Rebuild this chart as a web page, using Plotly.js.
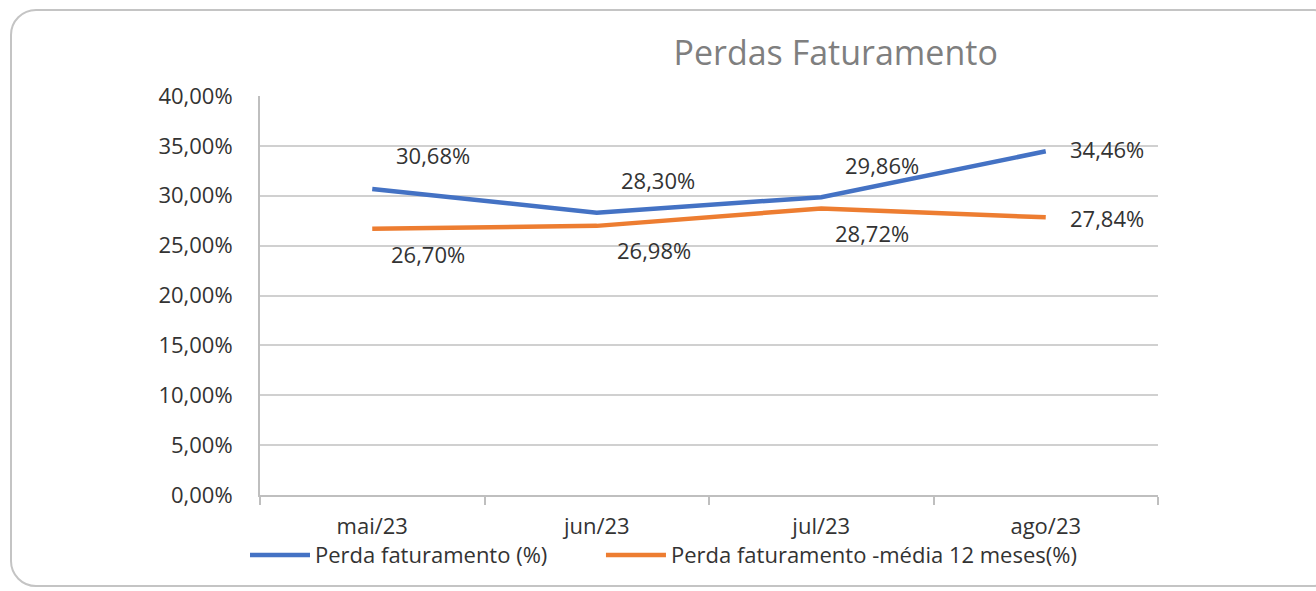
<!DOCTYPE html>
<html>
<head>
<meta charset="utf-8">
<script src="https://cdn.plot.ly/plotly-3.0.1.min.js"></script>
<style>
html,body{margin:0;padding:0;background:#fff;overflow:hidden;}
#frame{position:absolute;left:10px;top:9px;width:1330px;height:578px;border:2px solid #c4c4c4;border-radius:26px;box-sizing:border-box;}
#chart{position:absolute;left:0;top:0;width:1316px;height:591px;}
</style>
</head>
<body>
<div id="frame"></div>
<div id="chart"></div>
<script>
const categories = ["mai/23", "jun/23", "jul/23", "ago/23"];
const perdaFaturamento = [0.3068, 0.2830, 0.2986, 0.3446];
const perdaMedia12 = [0.2670, 0.2698, 0.2872, 0.2784];
const seriesNames = ["Perda faturamento (%)", "Perda faturamento -média 12 meses(%)"];
const yTickVals = [0, 0.05, 0.10, 0.15, 0.20, 0.25, 0.30, 0.35, 0.40];
const yTickText = ["0,00%", "5,00%", "10,00%", "15,00%", "20,00%", "25,00%", "30,00%", "35,00%", "40,00%"];

const fmt = v => (v * 100).toFixed(2).replace(".", ",") + "%";
const FONT = "'Open Sans', Lato, sans-serif";
const TXT = "#333333";
const SZ = 22;

const traces = [
  {x: categories, y: perdaFaturamento, name: seriesNames[0], type: "scatter", mode: "lines",
   line: {color: "#4472C4", width: 4.5}, legend: "legend"},
  {x: categories, y: perdaMedia12, name: seriesNames[1], type: "scatter", mode: "lines",
   line: {color: "#ED7D31", width: 4.5}, legend: "legend2"}
];

const blueShift = [[61, 34], [61, 33], [61, 32], [61, 2]];
const orangeShift = [[56, -25], [57, -24], [51, -24], [61, -1]];
const annotations = [];
categories.forEach((c, i) => {
  annotations.push({x: c, y: perdaFaturamento[i], xref: "x", yref: "y", text: fmt(perdaFaturamento[i]),
    showarrow: false, xshift: blueShift[i][0], yshift: blueShift[i][1],
    font: {family: FONT, size: SZ, color: TXT}});
  annotations.push({x: c, y: perdaMedia12[i], xref: "x", yref: "y", text: fmt(perdaMedia12[i]),
    showarrow: false, xshift: orangeShift[i][0], yshift: orangeShift[i][1],
    font: {family: FONT, size: SZ, color: TXT}});
});

const legendBase = {orientation: "h", xanchor: "left", y: -0.098, yanchor: "top", itemwidth: 60,
  font: {family: FONT, size: SZ, color: TXT}, bgcolor: "rgba(0,0,0,0)"};

const layout = {
  width: 1316, height: 591,
  paper_bgcolor: "rgba(0,0,0,0)", plot_bgcolor: "rgba(0,0,0,0)",
  margin: {l: 260, r: 158, t: 96, b: 96},
  title: {text: "Perdas Faturamento", x: 0.635, xanchor: "center", y: 0.91, yanchor: "middle",
    font: {family: FONT, size: 34, color: "#7f7f7f"}},
  showlegend: true,
  legend: Object.assign({}, legendBase, {x: -0.0167}),
  legend2: Object.assign({}, legendBase, {x: 0.3797}),
  xaxis: {type: "category", range: [-0.5, 3.5], showgrid: false, showline: true, linecolor: "#bfbfbf", linewidth: 2,
    ticks: "outside", tickson: "boundaries", ticklen: 8, tickcolor: "#bfbfbf", tickwidth: 2,
    ticklabelstandoff: 11,
    tickfont: {family: FONT, size: SZ, color: TXT}, fixedrange: true},
  yaxis: {range: [0, 0.40], tickvals: yTickVals, ticktext: yTickText, showgrid: true,
    gridcolor: "#d0d0d0", gridwidth: 2, showline: true, linecolor: "#bfbfbf", linewidth: 2,
    zeroline: false, ticks: "", ticklabelstandoff: 21,
    tickfont: {family: FONT, size: SZ, color: TXT}},
  annotations: annotations
};

Plotly.newPlot("chart", traces, layout, {displayModeBar: false, staticPlot: true});
</script>
</body>
</html>
